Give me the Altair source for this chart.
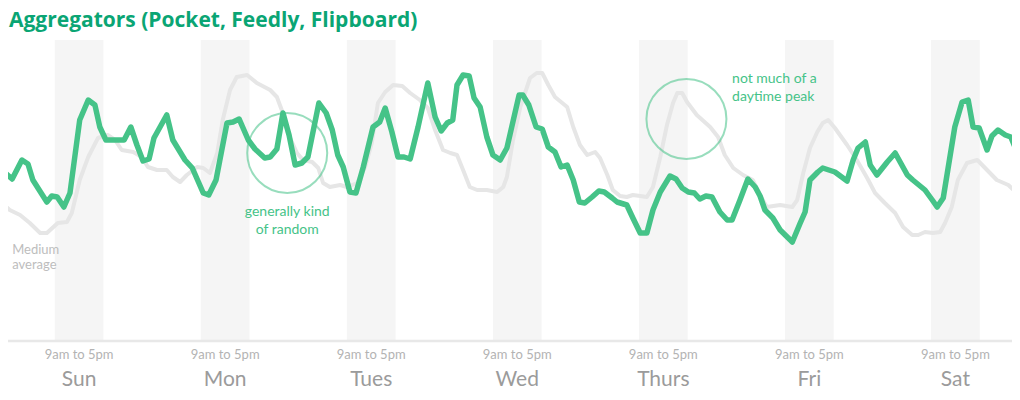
import altair as alt
import pandas as pd

# ---- data (hours since Sunday 00:00, value in arbitrary units) ----
green_hours = [0.3, 2.0, 3.6, 4.6, 5.4, 7.7, 8.5, 9.4, 10.5, 11.5, 13.1, 14.5, 15.6, 16.4, 17.4,
               20.4, 21.5, 22.5, 23.5, 24.5, 25.3, 27.4, 28.4, 30.4, 31.6, 33.4, 34.3, 35.5, 37.3,
               38.3, 39.3, 40.8, 41.9, 43.5, 44.4, 45.5, 46.5, 47.5, 48.5, 49.6, 50.6, 52.4, 53.6,
               54.6, 55.5, 56.4, 57.5, 58.5, 59.7, 61.3, 62.4, 63.3, 64.4, 65.4, 66.4, 67.4, 68.7,
               70.3, 71.5, 72.5, 73.5, 74.4, 75.1, 76.1, 77.1, 77.9, 78.9, 80.0, 81.0, 82.2, 83.3,
               85.3, 85.9, 86.9, 88.1, 89.1, 90.1, 91.2, 92.2, 93.2, 94.2, 95.2, 96.1, 97.3, 98.4,
               99.3, 100.6, 101.4, 103.0, 104.0, 105.2, 106.3, 107.3, 108.5, 110.1, 111.1, 112.1,
               113.1, 114.1, 115.0, 116.0, 117.0, 118.3, 119.5, 120.3, 121.6, 122.9, 124.1, 124.9,
               125.7, 127.0, 128.2, 130.2, 131.5, 132.3, 133.1, 134.4, 135.2, 137.2, 139.2, 140.2,
               141.0, 142.2, 143.0, 144.1, 145.8, 147.1, 149.1, 150.0, 152.0, 153.2, 154.0, 155.0,
               156.9, 158.1, 159.1, 159.9, 160.9, 162.2, 163.0, 164.0, 165.2, 166.1, 167.0]
green_values = [170, 161, 180, 176, 160, 138, 144, 143, 133, 147, 220, 240, 235, 213, 200,
                200, 213, 195, 179, 181, 202, 225, 200, 180, 172, 147, 145, 160, 217,
                218, 221, 200, 191, 182, 183, 191, 227, 205, 175, 177, 183, 237, 227,
                210, 185, 173, 148, 147, 173, 213, 218, 232, 208, 183, 183, 181, 213,
                257, 223, 209, 217, 220, 255, 265, 264, 242, 233, 203, 185, 180, 192,
                245, 245, 235, 213, 211, 193, 188, 173, 175, 160, 138, 137, 143, 149,
                148, 142, 138, 135, 122, 107, 107, 130, 148, 164, 161, 152,
                148, 147, 141, 144, 143, 128, 120, 120, 140, 161, 153, 144,
                130, 122, 110, 98, 117, 128, 160, 168, 172, 168, 159, 180,
                192, 198, 175, 165, 178, 187, 165, 160, 150, 140, 133, 142,
                213, 238, 240, 213, 212, 190, 204, 210, 205, 203, 190]

gray_hours = [0.3, 1.6, 3.3, 4.9, 6.6, 7.7, 9.5, 11.0, 11.8, 13.1, 14.5, 16.1, 17.7, 18.9, 20.0,
              21.9, 23.3, 24.3, 25.8, 27.4, 28.4, 29.6, 30.7, 32.4, 33.4, 34.5, 35.7, 36.6, 37.8,
              38.9, 40.6, 42.2, 44.4, 45.5, 46.3, 47.3, 48.8, 49.8, 51.3, 52.3, 53.1, 54.2, 55.9,
              57.0, 58.7, 60.0, 61.1, 62.1, 63.3, 64.6, 66.1, 67.4, 69.0, 70.3, 71.5, 72.8, 74.0,
              75.1, 76.1, 77.2, 78.4, 80.0, 81.7, 82.7, 83.3, 84.3, 85.5, 87.1, 88.2, 89.1, 90.1,
              91.2, 93.2, 94.2, 95.3, 96.5, 97.8, 98.6, 99.8, 100.7, 101.9, 103.0, 104.0, 105.2,
              106.3, 107.3, 108.5, 109.6, 110.6, 111.3, 112.1, 112.9, 114.5, 116.7, 118.0, 119.1,
              120.5, 122.1, 123.7, 124.9, 126.0, 128.2, 130.2, 131.0, 132.0, 133.1, 134.3, 135.2,
              136.1, 137.2, 139.2, 140.8, 142.5, 143.8, 145.4, 147.1, 148.4, 149.9, 150.9, 152.0,
              153.3, 154.5, 155.3, 156.4, 157.4, 158.9, 160.6, 162.2, 163.8, 165.7, 167.1]
gray_values = [137, 130, 125, 117, 107, 107, 117, 118, 127, 160, 183, 202, 205, 200, 190,
               188, 183, 173, 170, 170, 163, 158, 165, 173, 172, 167, 187, 220, 250,
               263, 265, 257, 250, 243, 230, 207, 187, 180, 178, 172, 157, 153, 155,
               153, 157, 173, 197, 237, 248, 255, 254, 247, 240, 232, 210, 190, 187,
               185, 170, 153, 150, 150, 148, 153, 163, 200, 233, 262, 267, 267, 255,
               243, 233, 213, 195, 185, 188, 182, 165, 150, 144, 143, 145, 144,
               143, 153, 183, 215, 237, 247, 247, 238, 225, 213, 203, 185,
               172, 165, 160, 145, 133, 135, 133, 140, 167, 192, 208, 217,
               220, 212, 195, 180, 162, 147, 137, 127, 113, 105, 105, 108,
               107, 108, 117, 133, 160, 177, 180, 170, 160, 155, 147]

days = ["Sun", "Mon", "Tues", "Wed", "Thurs", "Fri", "Sat"]
band_start = [9, 33, 57, 81, 105, 129, 153]
band_end = [17, 41, 65, 89, 113, 137, 161]
band_mid = [13, 37, 61, 85, 109, 133, 157]
band_label = ["9am to 5pm"] * 7

circle_hours = [47.2, 112.8]
circle_values = [187, 221]

note_text = ["generally kind", "of random", "not much of a", "daytime peak", "Medium", "average"]
note_hours = [47.2, 47.2, 120.3, 120.3, 2.0, 2.0]
note_values = [128, 110, 261, 243, 90, 75]
note_group = ["green_c", "green_c", "green_l", "green_l", "gray", "gray"]

title_text = "Aggregators (Pocket, Feedly, Flipboard)"

# ---- styling ----
GREEN = "#45c388"
GREEN_DARK = "#0aa574"
FONT = "Lato"
W, H = 1004, 300

xs = alt.Scale(domain=[1.315, 166.3], nice=False, zero=False)
ys = alt.Scale(domain=[0, 300], nice=False, zero=False)

bands = pd.DataFrame({"start": band_start, "end": band_end, "mid": band_mid,
                      "day": days, "lab": band_label})
green = pd.DataFrame({"h": green_hours, "v": green_values})
gray = pd.DataFrame({"h": gray_hours, "v": gray_values})
circles = pd.DataFrame({"h": circle_hours, "v": circle_values})
notes = pd.DataFrame({"t": note_text, "h": note_hours, "v": note_values, "g": note_group})

band_layer = alt.Chart(bands).mark_rect(color="#f5f5f5").encode(
    x=alt.X("start:Q", scale=xs, axis=None),
    x2="end:Q",
    y=alt.value(0),
    y2=alt.value(H),
)

axis_line = alt.Chart(bands.head(1)).mark_rule(color="#e8e8e8", strokeWidth=2.5).encode(
    x=alt.value(0), x2=alt.value(W), y=alt.value(H + 1)
)

band_text = alt.Chart(bands).mark_text(font=FONT, fontSize=13, color="#b3b3b3",
                                       baseline="middle").encode(
    x=alt.X("mid:Q", scale=xs, axis=None), y=alt.value(H + 15), text="lab:N"
)
day_text = alt.Chart(bands).mark_text(font=FONT, fontSize=21, color="#9b9b9b",
                                      baseline="middle").encode(
    x=alt.X("mid:Q", scale=xs, axis=None), y=alt.value(H + 40), text="day:N"
)

gray_line = alt.Chart(gray).mark_line(color="#e6e6e6", strokeWidth=4, strokeJoin="round",
                                      strokeCap="round", clip=True).encode(
    x=alt.X("h:Q", scale=xs, axis=None), y=alt.Y("v:Q", scale=ys, axis=None)
)
green_line = alt.Chart(green).mark_line(color=GREEN, strokeWidth=5.5, strokeJoin="round",
                                        strokeCap="round", clip=True).encode(
    x=alt.X("h:Q", scale=xs, axis=None), y=alt.Y("v:Q", scale=ys, axis=None)
)

circle_layer = alt.Chart(circles).mark_point(shape="circle", size=6400, filled=False,
                                             color=GREEN, opacity=0.55, strokeWidth=2).encode(
    x=alt.X("h:Q", scale=xs, axis=None), y=alt.Y("v:Q", scale=ys, axis=None)
)

note_c = alt.Chart(notes[notes.g == "green_c"]).mark_text(
    font=FONT, fontSize=14, color=GREEN, align="center", baseline="middle").encode(
    x=alt.X("h:Q", scale=xs, axis=None), y=alt.Y("v:Q", scale=ys, axis=None), text="t:N")
note_l = alt.Chart(notes[notes.g == "green_l"]).mark_text(
    font=FONT, fontSize=14, color=GREEN, align="left", baseline="middle").encode(
    x=alt.X("h:Q", scale=xs, axis=None), y=alt.Y("v:Q", scale=ys, axis=None), text="t:N")
note_g = alt.Chart(notes[notes.g == "gray"]).mark_text(
    font=FONT, fontSize=13, color="#bdbdbd", align="left", baseline="middle").encode(
    x=alt.X("h:Q", scale=xs, axis=None), y=alt.Y("v:Q", scale=ys, axis=None), text="t:N")

title_layer = alt.Chart(pd.DataFrame({"t": [title_text]})).mark_text(
    font="Open Sans", fontSize=21, fontWeight="bold", color=GREEN_DARK, align="left",
    baseline="top").encode(x=alt.value(1), y=alt.value(-30), text="t:N")

chart = alt.layer(
    band_layer, axis_line, band_text, day_text, gray_line, green_line,
    circle_layer, note_c, note_l, note_g, title_layer
).properties(
    width=W, height=H,
    autosize=alt.AutoSizeParams(type="none"),
    padding={"left": 0, "top": 32, "right": 0, "bottom": 52},
).configure_view(stroke=None)

chart.save("out.html", embed_options={"renderer": "svg", "actions": False})
